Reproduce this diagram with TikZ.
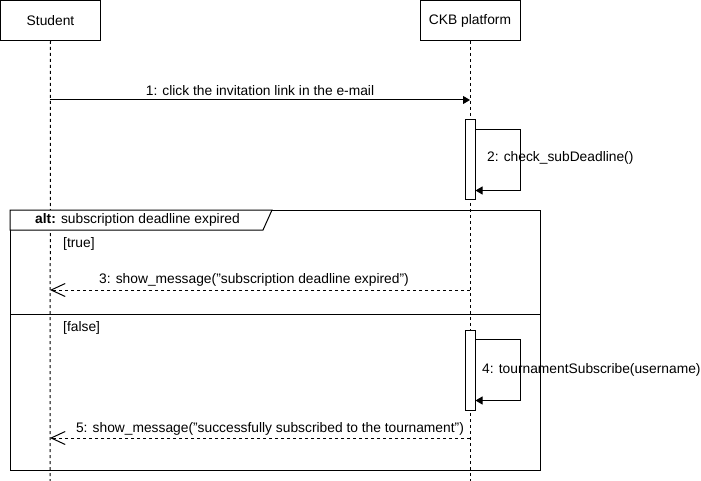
\documentclass[tikz,border=0pt]{standalone}
\usepackage{fontspec}
\setmainfont{Liberation Sans}
\usetikzlibrary{arrows.meta}
% straight double quote, not turned into a curly one by the TeX mapping
\newcommand{\dq}{\char34 }
\begin{document}
\begin{tikzpicture}[x=1pt,y=-1pt,
  every node/.style={font=\fontsize{13.8}{16}\selectfont, inner sep=0pt},
  head/.style={draw, line width=1pt, minimum width=100pt, minimum height=40pt, fill=white},
  lifeline/.style={line width=1pt, dash pattern=on 3pt off 3pt},
  act/.style={draw, fill=white, line width=1pt, minimum width=10pt, minimum height=80pt},
  call/.style={line width=1pt, -{Triangle[length=7pt,width=8pt]}},
  reply/.style={line width=1pt, dash pattern=on 3pt off 3pt,
    -{Straight Barb[length=14pt,width=13pt,line width=1pt]}},
  frm/.style={line width=1pt},
  msg/.style={anchor=center},
]
\useasboundingbox (0,0) rectangle (701,481);

% lifeline heads and dashed lifelines
\node[head] (student) at (50.5,20.5) {Student};
\node[head] (ckb) at (470,20.5) {CKB platform};
\coordinate (studentEnd) at (50,481);
\coordinate (ckbEnd) at (470,481);
\draw[lifeline] (student.south) -- (studentEnd);
\draw[lifeline] (ckb.south) -- (ckbEnd);

% 1: synchronous call student -> platform
\coordinate (m1a) at (50,100);
\coordinate (m1b) at (470,100);
\draw[call] (m1a) -- (m1b);
\node[msg] (l1) at (260,91) {1: click the invitation link in the e-mail};

% activation with self call 2
\node[act] (act1) at (470,160) {};
\draw[call] ([yshift=-10pt]act1.north east) -- ++(45,0) |- ([yshift=10pt]act1.south east);
\node[anchor=west] (l2) at (487,158) {2: check\_subDeadline()};

% combined fragment "alt"
\node[draw, line width=1pt, minimum width=530pt, minimum height=260pt] (altframe) at (275,340) {};
\draw[frm, fill=white] (10,210) -- (272,210) -- (263,230) -- (10,230) -- cycle;
\node[anchor=west] (altlabel) at (35,219.5) {\textbf{alt:} subscription deadline expired};
\node[anchor=west] (gtrue) at (63,243.5) {[true]};
\draw[frm] (10,314) -- (540,314);
\node[anchor=west] (gfalse) at (63,327.5) {[false]};

% 3: reply in the [true] branch
\coordinate (m3a) at (470,290);
\coordinate (m3b) at (50,290);
\draw[reply] (m3a) -- (m3b);
\node[msg] (l3) at (254,279.5) {3: show\_message(\dq subscription deadline expired\dq)};

% activation with self call 4
\node[act] (act2) at (470,370) {};
\draw[call] ([yshift=-10pt]act2.north east) -- ++(45,0) |- ([yshift=10pt]act2.south east);
\node[anchor=west] (l4) at (482,369.5) {4: tournamentSubscribe(username)};

% 5: reply in the [false] branch
\coordinate (m5a) at (470,438);
\coordinate (m5b) at (50,438);
\draw[reply] (m5a) -- (m5b);
\node[msg] (l5) at (270,428.5) {5: show\_message(\dq successfully subscribed to the tournament\dq)};
\end{tikzpicture}
\end{document}
